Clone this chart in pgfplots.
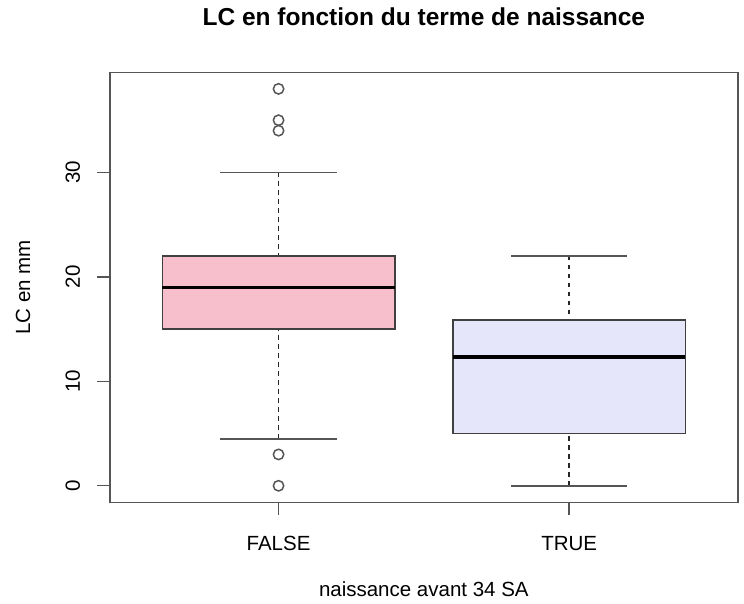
\documentclass[border=0pt]{standalone}
\usepackage{pgfplots}
\pgfplotsset{compat=1.18}
\usepgfplotslibrary{statistics}
\usepackage{fontspec}
\setmainfont{Liberation Sans}
\definecolor{pinkR}{RGB}{247,191,203}
\definecolor{lavR}{RGB}{230,230,250}
\definecolor{frame}{RGB}{85,85,85}
\begin{document}
\begin{tikzpicture}
\useasboundingbox (0,0) rectangle (744pt,604pt);
\begin{axis}[
  at={(110pt,101.5pt)}, anchor=south west,
  scale only axis, width=627.7pt, height=429.8pt,
  xmin=0.42, xmax=2.58, ymin=-1.6, ymax=39.55,
  xtick={1,2}, xticklabels={FALSE,TRUE},
  ytick={0,10,20,30},
  tick pos=left, tick align=outside, major tick length=12.7pt,
  every tick/.style={draw=frame, line width=1.4pt},
  axis line style={draw=frame, line width=1.6pt},
  /pgf/number format/assume math mode=true,
  tick label style={font=\fontsize{20.5}{24}\selectfont},
  yticklabel style={rotate=90, anchor=base},
  yticklabel shift=17.3pt,
  xticklabel style={anchor=base},
  xticklabel shift=35.3pt,
  label style={font=\fontsize{20.5}{24}\selectfont},
  xlabel={naissance avant 34 SA},
  xlabel style={at={(axis description cs:0.5,-0.2199)}, anchor=base},
  ylabel={LC en mm},
  ylabel style={at={(axis description cs:-0.1274,0.5)}, anchor=base, rotate=0},
  title={LC en fonction du terme de naissance},
  title style={at={(axis description cs:0.5,1.0954)}, anchor=base, font=\fontsize{24.5}{29}\selectfont\bfseries},
  boxplot/draw direction=y,
  boxplot/every median/.style={draw=black, line width=3.6pt},
  boxplot/every box/.style={draw=black!75, line width=1.6pt},
  boxplot/every whisker/.style={draw=frame, line width=1.6pt},
  boxplot/draw/lower whisker/.code={%
    \draw[/pgfplots/boxplot/every whisker/.try, draw=black!85, line width=1.4pt, dash pattern=on 4.5pt off 4.5pt]
      (boxplot box cs:\pgfplotsboxplotvalue{lower whisker},0.5) -- (boxplot box cs:\pgfplotsboxplotvalue{lower quartile},0.5);
    \draw[/pgfplots/boxplot/every whisker/.try, solid]
      (boxplot whisker cs:\pgfplotsboxplotvalue{lower whisker},0) -- (boxplot whisker cs:\pgfplotsboxplotvalue{lower whisker},1);
  },
  boxplot/draw/upper whisker/.code={%
    \draw[/pgfplots/boxplot/every whisker/.try, draw=black!85, line width=1.4pt, dash pattern=on 4.5pt off 4.5pt]
      (boxplot box cs:\pgfplotsboxplotvalue{upper whisker},0.5) -- (boxplot box cs:\pgfplotsboxplotvalue{upper quartile},0.5);
    \draw[/pgfplots/boxplot/every whisker/.try, solid]
      (boxplot whisker cs:\pgfplotsboxplotvalue{upper whisker},0) -- (boxplot whisker cs:\pgfplotsboxplotvalue{upper whisker},1);
  },
]
\addplot+[boxplot prepared={draw position=1, lower whisker=4.5, lower quartile=15, median=19, upper quartile=22, upper whisker=30, box extend=0.8, whisker extend=0.4},
  fill=pinkR, draw=frame, mark=o, mark size=5.2pt, mark options={draw=frame, line width=1.5pt, solid, fill=none}]
  coordinates {(0,38) (0,35) (0,34) (0,3) (0,0)};
\addplot+[boxplot prepared={draw position=2, lower whisker=0, lower quartile=5, median=12.35, upper quartile=15.9, upper whisker=22, box extend=0.8, whisker extend=0.4},
  fill=lavR, draw=frame, mark=none]
  coordinates {(0,-100)};
\end{axis}
\end{tikzpicture}
\end{document}
